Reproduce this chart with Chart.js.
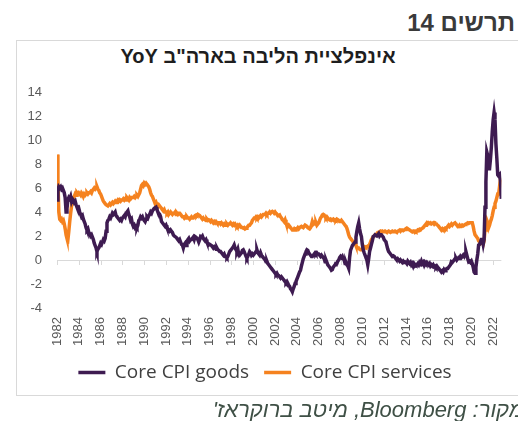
<!DOCTYPE html>
<html>
<head>
<meta charset="utf-8">
<script src="https://cdn.jsdelivr.net/npm/chart.js@4.4.0/dist/chart.umd.min.js"></script>
<style>
body { margin: 0; width: 518px; height: 421px; overflow: hidden; position: relative; background: #fff; font-family: "Liberation Sans", Arial, sans-serif; }
#hdr { position: absolute; right: 3px; top: 9px; font-weight: bold; font-size: 24px; color: #3a3a3a; direction: rtl; }
#frame { position: absolute; left: 16px; top: 40px; width: 540px; height: 354px; border: 1px solid #d9d9d9; }
#ttl { position: absolute; left: 0; width: 516px; top: 45px; text-align: center; font-weight: bold; font-size: 20px; color: #1e1e1e; direction: rtl; }
#src { position: absolute; right: -6px; top: 397px; font-style: italic; font-size: 22px; color: #3f5046; direction: rtl; white-space: nowrap; }
canvas { position: absolute; left: 0; top: 0; }
</style>
</head>
<body>
<div id="frame"></div>
<div id="hdr">תרשים 14</div>
<div id="ttl">אינפלציית הליבה בארה"ב YoY</div>
<canvas id="myChart" width="518" height="421"></canvas>
<div id="src">מקור: Bloomberg, מיטב ברוקראז'</div>
<script>
// monthly YoY %, Jan 1982 .. Oct 2022, one row per year
var firstYear = 1982;
var yearTicks = [1982, 1984, 1986, 1988, 1990, 1992, 1994, 1996, 1998, 2000, 2002,
                 2004, 2006, 2008, 2010, 2012, 2014, 2016, 2018, 2020, 2022];

var goodsRows = [
  [5.0, 5.8, 6.1, 6.0, 6.1, 5.9, 6.0, 5.8, 5.6, 5.2, 4.0, 4.3],
  [5.0, 5.2, 5.1, 5.3, 4.9, 5.1, 5.0, 4.8, 4.9, 4.6, 4.4, 4.2],
  [4.3, 4.0, 3.8, 3.6, 3.7, 3.4, 3.2, 3.0, 2.7, 2.5, 2.6, 2.3],
  [2.2, 2.0, 2.1, 1.9, 1.7, 1.4, 1.2, 1.0, 0.7, 0.9, 1.0, 1.2],
  [1.4, 1.3, 1.5, 1.7, 1.6, 1.8, 2.4, 3.1, 3.3, 3.4, 3.6, 3.5],
  [3.7, 3.9, 3.8, 3.9, 4.0, 3.7, 3.6, 3.5, 3.4, 3.3, 3.4, 3.3],
  [3.5, 3.6, 3.7, 3.6, 3.9, 4.0, 4.1, 3.8, 3.6, 3.3, 3.4, 3.0],
  [2.8, 2.9, 2.7, 2.8, 2.7, 2.9, 3.3, 3.4, 3.6, 3.5, 3.6, 3.4],
  [3.3, 3.2, 3.4, 3.6, 3.5, 3.7, 3.8, 4.0, 3.9, 4.1, 4.2, 4.3],
  [4.35, 4.4, 4.2, 4.0, 3.9, 3.8, 3.6, 3.2, 3.1, 3.0, 2.9, 2.8],
  [2.9, 2.7, 2.6, 2.5, 2.4, 2.5, 2.4, 2.3, 2.1, 2.0, 1.95, 1.9],
  [1.8, 1.7, 1.6, 1.7, 1.5, 1.3, 1.25, 1.0, 1.3, 1.4, 1.2, 1.5],
  [1.7, 1.8, 1.6, 1.7, 1.7, 1.8, 1.9, 1.7, 1.95, 1.9, 1.8, 1.7],
  [1.5, 1.7, 1.95, 1.9, 2.0, 1.8, 1.7, 1.6, 1.7, 1.5, 1.4, 1.25],
  [1.3, 1.25, 1.2, 1.1, 1.0, 1.1, 1.0, 0.9, 1.0, 0.85, 0.8, 0.7],
  [0.7, 0.6, 0.5, 0.4, 0.5, 0.3, 0.3, 0.2, 0.3, 0.5, 0.7, 0.8],
  [0.9, 1.0, 1.1, 1.25, 1.0, 0.85, 0.7, 0.9, 0.5, 0.4, 0.5, 0.6],
  [0.8, 0.85, 0.7, 0.5, 0.3, 0.15, 0.3, 0.5, 0.7, 0.6, 0.4, 0.5],
  [0.4, 0.5, 0.6, 0.7, 0.85, 0.6, 0.5, 0.4, 0.6, 0.4, 0.3, 0.2],
  [0.1, 0.0, -0.15, -0.1, -0.3, -0.4, -0.5, -0.6, -0.7, -0.8, -0.9, -1.0],
  [-1.1, -1.2, -1.1, -1.25, -1.3, -1.4, -1.5, -1.4, -1.5, -1.6, -1.7, -1.8],
  [-1.9, -1.8, -1.95, -2.1, -2.2, -2.4, -2.5, -2.65, -2.4, -2.2, -1.95, -1.8],
  [-1.6, -1.4, -1.2, -1.0, -0.85, -0.5, -0.2, 0.1, 0.3, 0.5, 0.7, 0.85],
  [0.8, 0.6, 0.5, 0.4, 0.3, 0.3, 0.4, 0.5, 0.6, 0.5, 0.6, 0.5],
  [0.5, 0.4, 0.3, 0.4, 0.3, 0.2, 0.1, -0.15, 0.0, -0.2, -0.4, -0.5],
  [-0.6, -0.7, -0.85, -0.8, -0.6, -0.5, -0.4, -0.3, -0.3, -0.1, 0.0, 0.2],
  [0.3, 0.2, 0.3, 0.1, 0.0, -0.3, -0.2, -0.4, -0.5, -0.7, 0.2, 0.8],
  [1.0, 1.2, 1.3, 1.4, 1.5, 1.9, 2.4, 2.8, 3.1, 2.6, 2.2, 1.95],
  [1.3, 0.85, 0.6, 0.4, 0.2, 0.0, -0.4, 0.1, 0.7, 1.0, 1.3, 1.6],
  [1.95, 2.0, 2.1, 2.1, 2.0, 2.1, 2.2, 2.0, 2.1, 2.1, 2.0, 1.9],
  [1.7, 1.6, 1.5, 1.2, 0.9, 0.7, 0.6, 0.5, 0.4, 0.3, 0.35, 0.3],
  [0.2, 0.1, 0.0, 0.1, 0.0, -0.1, 0.0, -0.1, -0.2, -0.1, -0.2, -0.15],
  [-0.2, -0.3, -0.1, -0.2, -0.3, -0.2, -0.4, -0.3, -0.5, -0.3, -0.4, -0.45],
  [-0.4, -0.3, -0.4, -0.2, -0.3, -0.1, -0.3, -0.2, -0.4, -0.2, -0.3, -0.2],
  [-0.3, -0.4, -0.3, -0.5, -0.4, -0.5, -0.4, -0.55, -0.5, -0.6, -0.5, -0.6],
  [-0.7, -0.8, -0.9, -1.0, -0.9, -1.0, -0.8, -0.9, -0.8, -0.7, -0.7, -0.6],
  [-0.5, -0.4, -0.15, -0.2, -0.1, 0.0, 0.1, 0.15, 0.0, 0.1, 0.2, 0.15],
  [0.3, 0.2, 0.3, 0.4, 0.3, 0.5, 0.7, 0.4, 0.1, -0.15, -0.1, -0.2],
  [-0.1, -0.3, -0.6, -1.0, -1.1, -0.6, 0.0, 0.5, 1.25, 1.3, 1.5, 1.7],
  [1.7, 1.3, 1.7, 4.4, 6.5, 9.0, 8.7, 7.6, 7.6, 8.4, 9.4, 10.7],
  [11.7, 12.3, 11.7, 9.7, 8.5, 7.1, 7.0, 7.1, 6.6, 5.1]
];

var servicesRows = [
  [8.8, 6.7, 4.0, 3.4, 3.3, 3.4, 3.2, 3.3, 3.0, 2.6, 2.1, 1.8],
  [1.7, 2.4, 3.2, 3.9, 4.5, 4.9, 5.2, 5.3, 5.5, 5.4, 5.6, 5.5],
  [5.6, 5.5, 5.4, 5.6, 5.5, 5.3, 5.5, 5.4, 5.5, 5.6, 5.5, 5.6],
  [5.6, 5.7, 5.6, 5.8, 5.9, 6.0, 5.9, 6.0, 6.1, 5.9, 5.8, 5.6],
  [5.5, 5.3, 5.1, 4.9, 4.8, 4.7, 4.6, 4.6, 4.5, 4.6, 4.7, 4.6],
  [4.7, 4.8, 4.7, 4.8, 4.9, 4.8, 4.9, 5.0, 4.9, 5.0, 4.9, 5.0],
  [5.0, 5.1, 5.0, 5.1, 5.0, 5.2, 5.1, 5.0, 5.2, 5.1, 5.2, 5.2],
  [5.2, 5.3, 5.2, 5.3, 5.4, 5.3, 5.45, 5.6, 5.9, 6.2, 6.3, 6.2],
  [6.4, 6.3, 6.4, 6.3, 6.2, 6.1, 5.9, 5.6, 5.4, 5.3, 5.1, 4.9],
  [4.7, 4.8, 4.6, 4.5, 4.6, 4.5, 4.4, 4.3, 4.2, 4.1, 4.2, 4.0],
  [4.0, 3.9, 4.0, 3.8, 3.9, 4.0, 3.9, 3.8, 3.9, 3.9, 4.0, 3.8],
  [3.9, 3.8, 3.9, 3.9, 3.8, 3.7, 3.6, 3.6, 3.5, 3.6, 3.5, 3.6],
  [3.5, 3.5, 3.4, 3.5, 3.6, 3.5, 3.5, 3.6, 3.7, 3.75, 3.7, 3.8],
  [3.75, 3.7, 3.6, 3.5, 3.4, 3.5, 3.4, 3.35, 3.3, 3.4, 3.3, 3.35],
  [3.3, 3.2, 3.3, 3.2, 3.1, 3.2, 3.1, 3.2, 3.1, 3.0, 3.1, 3.1],
  [3.0, 3.1, 3.0, 2.9, 3.0, 2.9, 2.9, 3.0, 2.9, 3.0, 3.0, 3.1],
  [3.0, 2.9, 3.0, 2.9, 3.0, 2.9, 2.8, 2.9, 2.8, 2.9, 2.8, 2.7],
  [2.7, 2.65, 2.7, 2.6, 2.65, 2.7, 2.8, 2.9, 2.9, 3.0, 3.1, 3.3],
  [3.4, 3.5, 3.5, 3.6, 3.5, 3.6, 3.5, 3.6, 3.7, 3.6, 3.7, 3.8],
  [3.8, 3.8, 3.9, 3.8, 3.9, 3.9, 4.0, 3.9, 4.0, 4.05, 4.0, 3.9],
  [4.0, 3.9, 3.8, 3.75, 3.7, 3.75, 3.6, 3.5, 3.35, 3.3, 3.2, 3.35],
  [3.1, 2.9, 2.8, 2.9, 2.8, 2.7, 2.6, 2.5, 2.5, 2.6, 2.5, 2.6],
  [2.6, 2.7, 2.6, 2.7, 2.75, 2.8, 2.75, 2.7, 2.8, 2.9, 2.9, 2.8],
  [2.7, 2.65, 2.6, 2.7, 2.9, 3.2, 3.0, 3.1, 3.0, 3.1, 2.9, 3.0],
  [3.1, 3.3, 3.5, 3.6, 3.75, 3.8, 3.75, 3.6, 3.5, 3.6, 3.5, 3.4],
  [3.35, 3.4, 3.3, 3.35, 3.4, 3.3, 3.35, 3.3, 3.4, 3.35, 3.3, 3.2],
  [3.2, 3.3, 3.2, 3.1, 3.0, 2.9, 2.8, 2.65, 2.4, 2.1, 1.9, 1.8],
  [1.7, 1.6, 1.5, 1.4, 1.4, 1.2, 1.1, 1.0, 1.0, 0.9, 0.85, 0.85],
  [0.9, 1.0, 1.0, 1.1, 1.05, 1.1, 1.15, 1.1, 1.3, 1.5, 1.7, 1.8],
  [1.95, 2.0, 2.1, 2.1, 2.2, 2.3, 2.3, 2.35, 2.4, 2.35, 2.4, 2.35],
  [2.35, 2.4, 2.35, 2.3, 2.35, 2.4, 2.35, 2.3, 2.35, 2.4, 2.35, 2.35],
  [2.4, 2.35, 2.3, 2.4, 2.45, 2.5, 2.4, 2.5, 2.5, 2.45, 2.5, 2.55],
  [2.6, 2.65, 2.6, 2.55, 2.5, 2.45, 2.4, 2.35, 2.4, 2.35, 2.4, 2.35],
  [2.4, 2.5, 2.45, 2.55, 2.5, 2.6, 2.65, 2.7, 2.8, 2.9, 3.0, 3.1],
  [3.0, 3.1, 3.05, 3.1, 3.0, 3.05, 3.1, 3.0, 3.1, 3.05, 2.95, 2.9],
  [2.8, 2.7, 2.6, 2.5, 2.6, 2.5, 2.6, 2.65, 2.6, 2.7, 2.8, 2.9],
  [2.8, 2.9, 3.0, 2.9, 3.0, 3.05, 3.1, 3.0, 2.9, 2.85, 2.8, 2.9],
  [2.8, 2.8, 2.9, 2.85, 2.9, 2.95, 3.0, 3.05, 3.1, 3.05, 3.1, 3.1],
  [3.1, 3.1, 2.8, 2.4, 2.1, 2.0, 1.9, 1.8, 1.6, 1.5, 1.4, 1.5],
  [1.4, 1.3, 1.6, 2.5, 3.0, 3.3, 3.1, 2.7, 2.9, 3.2, 3.4, 3.7],
  [4.1, 4.4, 4.7, 4.9, 5.2, 5.5, 5.5, 6.1, 6.7, 6.7]
];

var goods = goodsRows.flat();
var services = servicesRows.flat();

function toPoints(values) {
  return values.map(function (v, i) { return { x: firstYear + i / 12, y: v }; });
}

color1 = '#3e1b51';
color2 = '#f5821f';

// small tick marks hanging from the zero line, like the Excel axis
var zeroTicks = {
  id: 'zeroTicks',
  beforeDatasetsDraw: function (chart) {
    var x = chart.scales.x, y = chart.scales.y, c = chart.ctx;
    var y0 = y.getPixelForValue(0);
    c.save();
    c.strokeStyle = '#d9d9d9';
    c.lineWidth = 1;
    yearTicks.forEach(function (t) {
      var px = Math.round(x.getPixelForValue(t)) + 0.5;
      c.beginPath();
      c.moveTo(px, y0);
      c.lineTo(px, y0 + 5);
      c.stroke();
    });
    c.restore();
  }
};

Chart.defaults.font.family = '"Liberation Sans", Arial, sans-serif';

var ctx = document.getElementById('myChart').getContext('2d');
var chart = new Chart(ctx, {
  type: 'line',
  data: {
    datasets: [{
        label: 'Core CPI goods',
        data: toPoints(goods),
        borderColor: color1,
        backgroundColor: color1,
        borderWidth: 3.5,
        pointRadius: 0,
        fill: false
      },
      {
        label: 'Core CPI services',
        data: toPoints(services),
        borderColor: color2,
        backgroundColor: color2,
        borderWidth: 3.5,
        pointRadius: 0,
        fill: false
      }
    ]
  },
  options: {
    responsive: false,
    animation: false,
    devicePixelRatio: 1,
    layout: { padding: { left: 24, right: 12, top: 92, bottom: 29 } },
    plugins: {
      title: { display: false },
      tooltip: { enabled: false },
      legend: {
        position: 'bottom',
        labels: {
          usePointStyle: true,
          pointStyle: 'line',
          pointStyleWidth: 27,
          padding: 15,
          color: '#404040',
          font: { family: '"Open Sans", sans-serif', size: 19 }
        }
      }
    },
    scales: {
      x: {
        type: 'linear',
        min: firstYear,
        max: firstYear + (goods.length - 1) / 12,
        afterBuildTicks: function (scale) {
          scale.ticks = yearTicks.map(function (v) { return { value: v }; });
        },
        afterFit: function (scale) { scale.height = 40; },
        grid: { display: false, drawTicks: false },
        border: { display: false },
        ticks: {
          autoSkip: false,
          minRotation: 90,
          maxRotation: 90,
          padding: 9,
          color: '#595959',
          font: { size: 13 },
          callback: function (v) { return String(v); }
        }
      },
      y: {
        min: -4,
        max: 14,
        afterFit: function (scale) { scale.width = 33; },
        grid: {
          drawTicks: false,
          color: function (c) { return c.tick && c.tick.value === 0 ? '#d9d9d9' : 'rgba(0,0,0,0)'; }
        },
        border: { display: false },
        ticks: {
          stepSize: 2,
          padding: 15,
          color: '#595959',
          font: { size: 13 }
        }
      }
    }
  },
  plugins: [zeroTicks]
});
</script>
</body>
</html>
